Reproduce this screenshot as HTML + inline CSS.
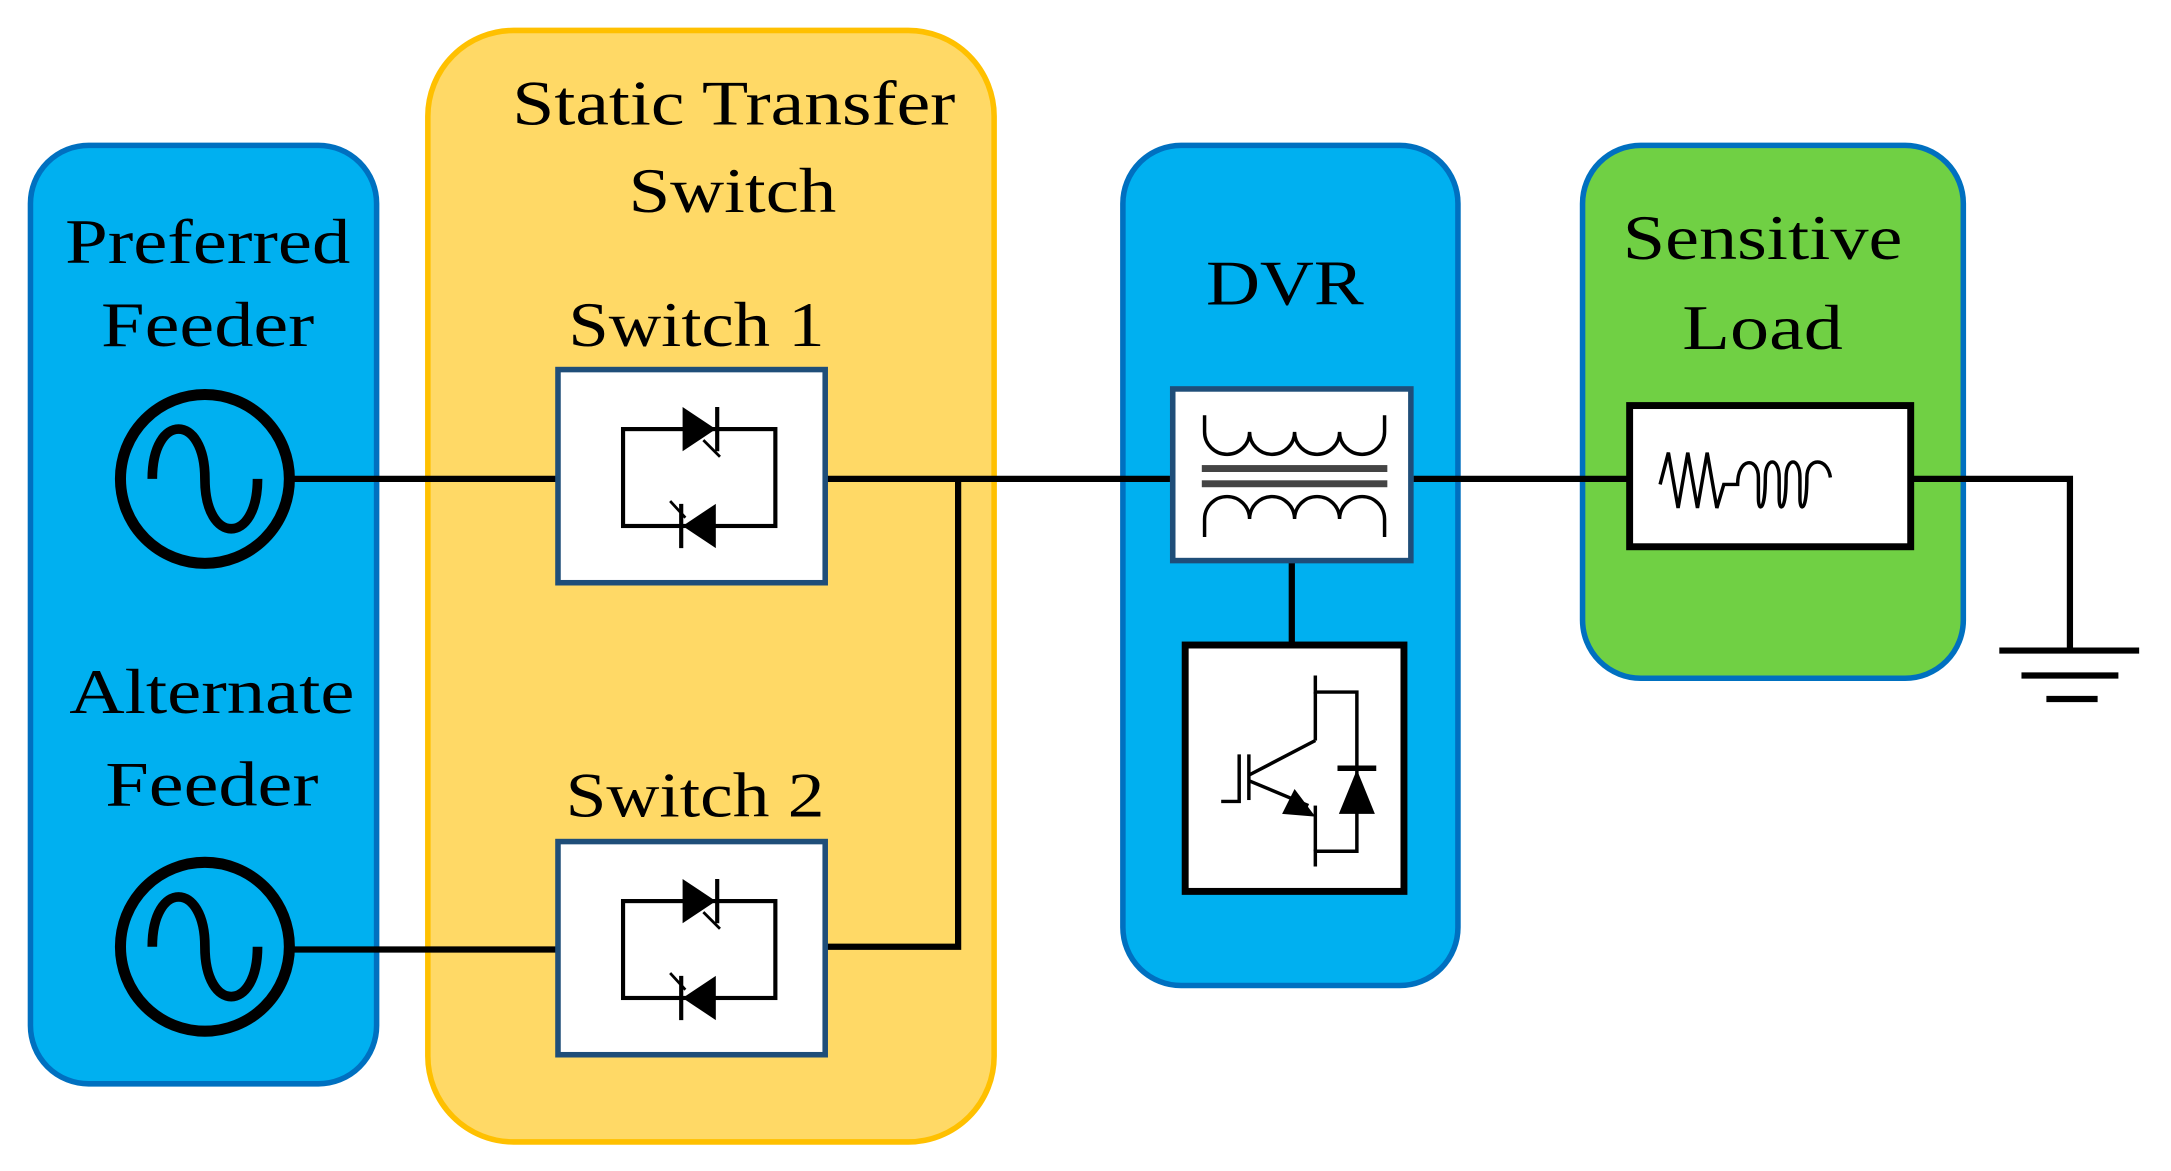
<!DOCTYPE html>
<html><head><meta charset="utf-8"><style>html,body{margin:0;padding:0;background:#fff}svg{display:block}</style></head>
<body>
<svg width="2171" height="1171" viewBox="0 0 1568 846" preserveAspectRatio="none" xmlns="http://www.w3.org/2000/svg" font-family="Liberation Serif, serif" font-size="46">
<defs>
<g id="thy">
  <rect x="450" y="310" width="110" height="70" fill="none" stroke="#000" stroke-width="3"/>
  <polygon points="493,294 493,326 517,310" fill="#000"/>
  <line x1="518" y1="294" x2="518" y2="326" stroke="#000" stroke-width="3"/>
  <line x1="508" y1="318" x2="520" y2="330" stroke="#000" stroke-width="2"/>
  <polygon points="517,364 517,396 493,380" fill="#000"/>
  <line x1="492" y1="364" x2="492" y2="396" stroke="#000" stroke-width="3"/>
  <line x1="484" y1="362" x2="495" y2="374" stroke="#000" stroke-width="2"/>
</g>
<g id="src">
  <circle cx="0" cy="0" r="61" fill="none" stroke="#000" stroke-width="8"/>
  <path d="M-38,0 C-38,-48 0,-48 0,0 C0,48 38,48 38,0" fill="none" stroke="#000" stroke-width="7"/>
</g>
</defs>
<rect x="22" y="105" width="250" height="678" rx="42" fill="#00B0F0" stroke="#0070C0" stroke-width="4"/>
<rect x="309" y="22" width="409" height="803" rx="62" fill="#FFD966" stroke="#FFC000" stroke-width="4"/>
<rect x="811" y="105" width="242" height="607" rx="42" fill="#00B0F0" stroke="#0070C0" stroke-width="4"/>
<rect x="1143" y="105" width="275" height="385" rx="42" fill="#70D044" stroke="#0070C0" stroke-width="4"/>

<g stroke="#000" stroke-width="4.5" fill="none">
<line x1="210" y1="346" x2="402" y2="346"/>
<line x1="597" y1="346" x2="845" y2="346"/>
<polyline points="597,684 692,684 692,346"/>
<line x1="210" y1="686" x2="402" y2="686"/>
<line x1="1021" y1="346" x2="1176" y2="346"/>
<polyline points="1381,346 1495,346 1495,470"/>
<line x1="933" y1="406" x2="933" y2="465"/>
<line x1="1444" y1="470" x2="1545" y2="470"/>
<line x1="1460" y1="488" x2="1530" y2="488"/>
<line x1="1478" y1="505" x2="1515" y2="505"/>
</g>

<use href="#src" x="148" y="346"/>
<use href="#src" x="148" y="684"/>

<rect x="403" y="267" width="193" height="154" fill="#fff" stroke="#1F4E79" stroke-width="4"/>
<use href="#thy"/>
<rect x="403" y="608" width="193" height="154" fill="#fff" stroke="#1F4E79" stroke-width="4"/>
<use href="#thy" y="341"/>

<rect x="847" y="281" width="172" height="124" fill="#fff" stroke="#1F4E79" stroke-width="4"/>
<g stroke="#000" stroke-width="2.5" fill="none">
<path d="M870,300 L870,312 A16,16 0 0 0 902.5,312 A16,16 0 0 0 935,312 A16,16 0 0 0 967.5,312 A16,16 0 0 0 1000,312 L1000,300"/>
<path d="M870,388 L870,375 A16,16 0 0 1 902.5,375 A16,16 0 0 1 935,375 A16,16 0 0 1 967.5,375 A16,16 0 0 1 1000,375 L1000,388"/>
</g>
<rect x="868" y="336" width="134" height="5" fill="#444"/>
<rect x="868" y="347" width="134" height="5" fill="#444"/>

<rect x="856" y="466" width="158" height="178" fill="#fff" stroke="#000" stroke-width="5"/>
<g stroke="#000" stroke-width="2.5" fill="none">
<polyline points="882,579 895,579 895,545"/>
<line x1="902" y1="545" x2="902" y2="578"/>
<polyline points="950,488 950,500 980,500 980,615 950,615 950,626"/>
<line x1="902" y1="560" x2="950" y2="535"/>
<line x1="950" y1="535" x2="950" y2="500"/>
<line x1="902" y1="564" x2="945" y2="582"/>
<line x1="950" y1="582" x2="950" y2="615"/>
</g>
<polygon points="935,570 950,590 926,588" fill="#000"/>
<polygon points="967,588 993,588 980,556" fill="#000"/>
<line x1="966" y1="555" x2="994" y2="555" stroke="#000" stroke-width="4"/>

<rect x="1177" y="293" width="203" height="102" fill="#fff" stroke="#000" stroke-width="5"/>
<path d="M1199,350 L1205,327 L1212,367 L1219,327 L1226,367 L1233,327 L1240,367 L1245,350 L1255,350 C1255,330 1270,330 1270,345 L1270,360 C1270,370 1275,370 1275,345 C1275,330 1285,330 1285,345 L1285,360 C1285,370 1290,370 1290,345 C1290,330 1300,330 1300,345 L1300,360 C1300,370 1305,370 1305,345 C1305,330 1320,330 1322,345" fill="none" stroke="#000" stroke-width="2.5"/>

<g fill="#000" text-anchor="middle">
<text x="150" y="190" textLength="206" lengthAdjust="spacingAndGlyphs">Preferred</text>
<text x="150" y="250" textLength="154" lengthAdjust="spacingAndGlyphs">Feeder</text>
<text x="530" y="90" textLength="320" lengthAdjust="spacingAndGlyphs">Static Transfer</text>
<text x="529" y="153" textLength="150" lengthAdjust="spacingAndGlyphs">Switch</text>
<text x="503" y="250" textLength="185" lengthAdjust="spacingAndGlyphs">Switch 1</text>
<text x="153" y="515" textLength="206" lengthAdjust="spacingAndGlyphs">Alternate</text>
<text x="153" y="582" textLength="154" lengthAdjust="spacingAndGlyphs">Feeder</text>
<text x="502" y="590" textLength="187" lengthAdjust="spacingAndGlyphs">Switch 2</text>
<text x="928" y="220" textLength="114" lengthAdjust="spacingAndGlyphs">DVR</text>
<text x="1273" y="187" textLength="202" lengthAdjust="spacingAndGlyphs">Sensitive</text>
<text x="1273" y="252" textLength="116" lengthAdjust="spacingAndGlyphs">Load</text>
</g>
</svg>
</body></html>
